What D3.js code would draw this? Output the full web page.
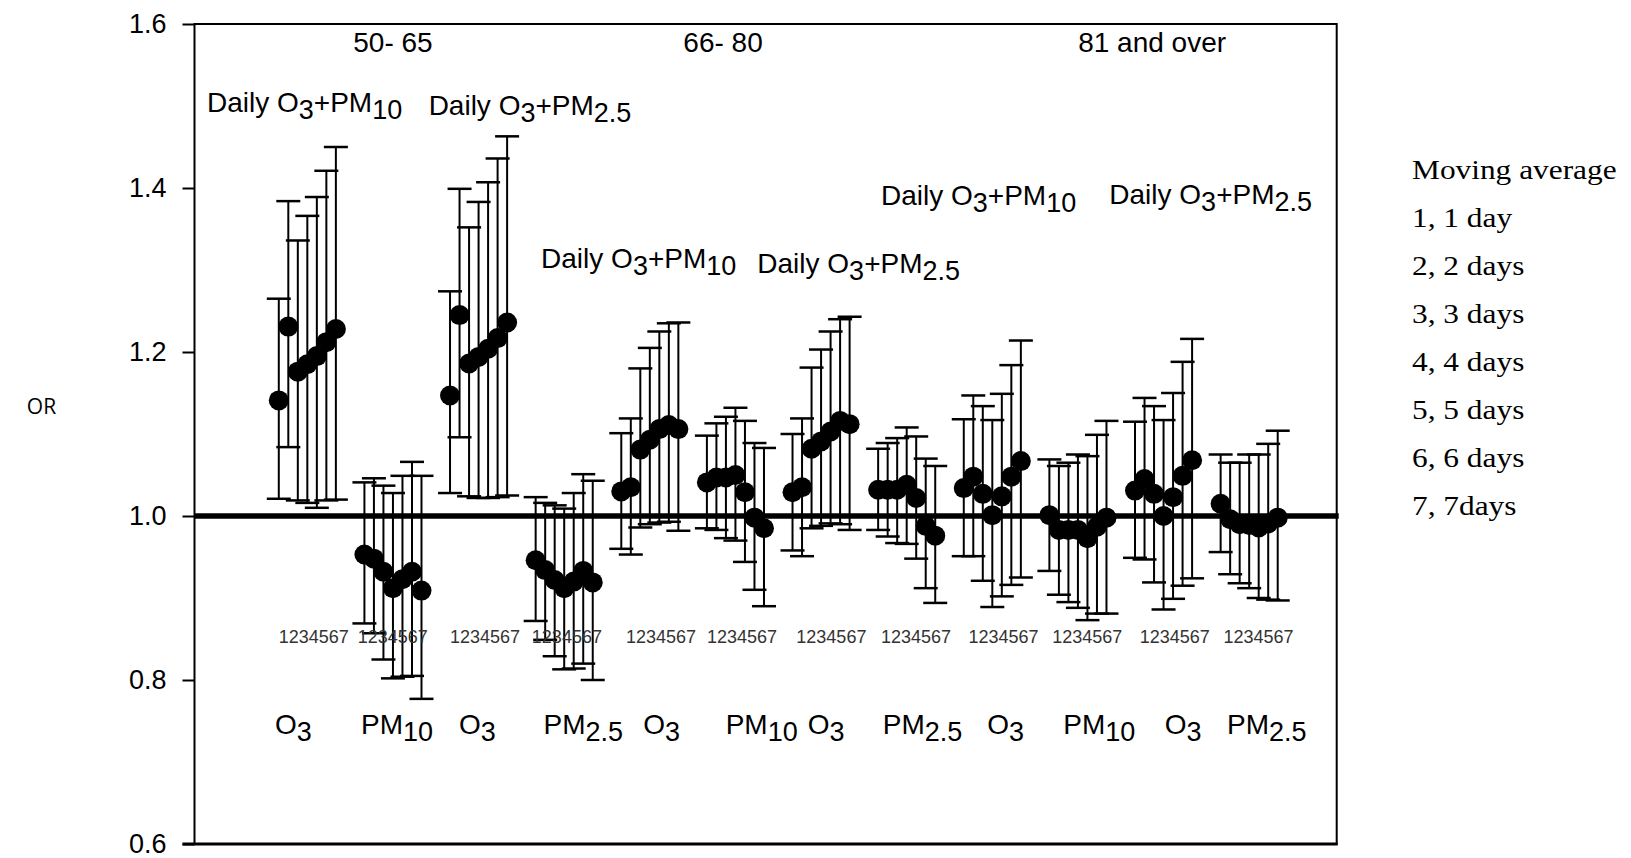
<!DOCTYPE html>
<html><head><meta charset="utf-8">
<script src="https://cdn.jsdelivr.net/npm/d3@7"></script>
<style>html,body{margin:0;padding:0;background:#fff;} svg{display:block;}</style>
</head><body>
<svg id="chart" width="1631" height="858"></svg>
<script>
// ---------------- data ----------------
const ageGroups = ["50- 65", "66- 80", "81 and over"];
const pollutantLabels = [["O","3"],["PM","10"],["O","3"],["PM","2.5"],
                         ["O","3"],["PM","10"],["O","3"],["PM","2.5"],
                         ["O","3"],["PM","10"],["O","3"],["PM","2.5"]];
const modelLabels = [["Daily O","3","+PM","10"],["Daily O","3","+PM","2.5"],
                     ["Daily O","3","+PM","10"],["Daily O","3","+PM","2.5"],
                     ["Daily O","3","+PM","10"],["Daily O","3","+PM","2.5"]];
const lagLabel = "1234567";
const yAxisTitle = "OR";
const legendTitle = "Moving average";
const legendItems = ["1, 1 day","2, 2 days","3, 3 days","4, 4 days","5, 5 days","6, 6 days","7, 7days"];
const yTickValues = [0.6, 0.8, 1.0, 1.2, 1.4, 1.6];

// odds ratios, one row per group (7 moving-average lags each)
const oddsRatio = [
  [1.141,1.231,1.176,1.185,1.195,1.212,1.228],
  [0.953,0.948,0.932,0.912,0.923,0.932,0.909],
  [1.147,1.245,1.186,1.194,1.204,1.217,1.236],
  [0.946,0.934,0.922,0.912,0.920,0.933,0.919],
  [1.030,1.035,1.081,1.093,1.106,1.111,1.106],
  [1.041,1.047,1.047,1.050,1.029,0.998,0.985],
  [1.029,1.035,1.082,1.091,1.103,1.116,1.112],
  [1.032,1.032,1.032,1.038,1.022,0.988,0.976],
  [1.034,1.048,1.027,1.001,1.024,1.048,1.067],
  [1.001,0.983,0.983,0.983,0.973,0.987,0.998],
  [1.031,1.045,1.027,1.000,1.023,1.049,1.068],
  [1.015,0.996,0.990,0.989,0.986,0.991,0.998]
];
const ciLower = [
  [1.021,1.084,1.019,1.016,1.010,1.019,1.020],
  [0.869,0.857,0.825,0.802,0.804,0.805,0.777],
  [1.028,1.096,1.024,1.022,1.022,1.023,1.025],
  [0.872,0.849,0.829,0.813,0.814,0.820,0.800],
  [0.960,0.953,0.986,0.990,0.992,0.993,0.982],
  [0.985,0.983,0.973,0.970,0.944,0.910,0.890],
  [0.958,0.951,0.985,0.988,0.991,0.990,0.983],
  [0.983,0.975,0.967,0.966,0.948,0.912,0.894],
  [0.951,0.951,0.921,0.889,0.902,0.916,0.925],
  [0.933,0.904,0.895,0.888,0.873,0.881,0.881],
  [0.949,0.947,0.919,0.886,0.899,0.915,0.924],
  [0.956,0.929,0.918,0.912,0.900,0.898,0.897]
];
const ciUpper = [
  [1.265,1.384,1.336,1.366,1.389,1.421,1.450],
  [1.041,1.046,1.037,1.028,1.049,1.066,1.049],
  [1.274,1.399,1.352,1.383,1.407,1.436,1.463],
  [1.023,1.016,1.013,1.009,1.028,1.051,1.043],
  [1.101,1.119,1.180,1.205,1.225,1.235,1.236],
  [1.098,1.113,1.121,1.132,1.116,1.089,1.083],
  [1.100,1.119,1.181,1.203,1.225,1.240,1.243],
  [1.082,1.089,1.095,1.108,1.097,1.070,1.061],
  [1.118,1.147,1.134,1.117,1.149,1.184,1.214],
  [1.069,1.061,1.065,1.075,1.073,1.099,1.116],
  [1.115,1.144,1.134,1.117,1.150,1.188,1.216],
  [1.075,1.065,1.065,1.075,1.075,1.088,1.104]
];

// ---------------- layout ----------------
const W = 1631, H = 858;
const plot = {left: 194.5, right: 1336.7, top: 24, bottom: 844};
const groupStride = 9;            // x-units between starts of consecutive groups
const xDomain = [-8.86, 111.2];   // x-units visible on the axis
// annotation anchors (in x-units)
const ageLabelX = [12.0, 46.7, 91.8];
const modelLabelX = [-7.55, 15.75, 27.57, 50.3, 63.3, 87.3];
const modelLabelY = [112, 115, 268, 273, 205, 204];
const lagLabelX = [0.0, 8.3, 18.0, 26.6, 36.5, 45.0, 54.4, 63.3, 72.5, 81.3, 90.5, 99.3];
const pollLabelX = [-0.4, 8.64, 18.95, 27.83, 38.3, 46.97, 55.6, 63.48, 74.47, 82.46, 93.13, 99.67];

const svg = d3.select("#chart");
svg.append("rect").attr("width", W).attr("height", H).attr("fill", "#fff");

const x = d3.scaleLinear().domain(xDomain).range([plot.left, plot.right]);
const y = d3.scaleLinear().domain([0.6, 1.6]).range([plot.bottom, plot.top]);

const sans = "'Liberation Sans', Arial, sans-serif";
const serif = "'Liberation Serif', 'Times New Roman', serif";

// frame
svg.append("rect")
  .attr("x", plot.left).attr("y", plot.top)
  .attr("width", plot.right - plot.left).attr("height", plot.bottom - plot.top)
  .attr("fill", "none").attr("stroke", "#000").attr("stroke-width", 2);
svg.append("line")
  .attr("x1", plot.left - 12).attr("x2", plot.right + 1)
  .attr("y1", y(0.6)).attr("y2", y(0.6))
  .attr("stroke", "#000").attr("stroke-width", 3);

// y axis
const yAxis = d3.axisLeft(y).tickValues(yTickValues)
  .tickFormat(d3.format(".1f")).tickSize(12).tickSizeOuter(0).tickPadding(16);
const gy = svg.append("g").attr("transform", `translate(${plot.left},0)`).call(yAxis);
gy.select(".domain").remove();
gy.selectAll(".tick line").attr("stroke", "#000").attr("stroke-width", 2);
gy.selectAll(".tick text").attr("font-family", sans).attr("font-size", 27).attr("fill", "#000");

// reference line at OR = 1
svg.append("line")
  .attr("x1", plot.left).attr("x2", plot.right + 2)
  .attr("y1", y(1)).attr("y2", y(1))
  .attr("stroke", "#000").attr("stroke-width", 5.5);

// flatten points
const pts = [];
oddsRatio.forEach((row, g) => row.forEach((v, i) => {
  pts.push({u: g * groupStride + i, or: v, lo: ciLower[g][i], hi: ciUpper[g][i]});
}));

const capW = 12;
const bars = svg.append("g").attr("stroke", "#000");
bars.selectAll("line.v").data(pts).join("line").attr("class", "v")
  .attr("x1", d => x(d.u)).attr("x2", d => x(d.u))
  .attr("y1", d => y(d.lo)).attr("y2", d => y(d.hi))
  .attr("stroke-width", 2);
bars.selectAll("line.ch").data(pts).join("line").attr("class", "ch")
  .attr("x1", d => x(d.u) - capW).attr("x2", d => x(d.u) + capW)
  .attr("y1", d => y(d.hi)).attr("y2", d => y(d.hi))
  .attr("stroke-width", 2.5);
bars.selectAll("line.cl").data(pts).join("line").attr("class", "cl")
  .attr("x1", d => x(d.u) - capW).attr("x2", d => x(d.u) + capW)
  .attr("y1", d => y(d.lo)).attr("y2", d => y(d.lo))
  .attr("stroke-width", 2.5);

svg.append("g").selectAll("circle").data(pts).join("circle")
  .attr("cx", d => x(d.u)).attr("cy", d => y(d.or)).attr("r", 10)
  .attr("fill", "#000");

// lag labels
svg.append("g").selectAll("text").data(lagLabelX).join("text")
  .attr("x", d => x(d)).attr("y", 643)
  .attr("font-family", sans).attr("font-size", 18).attr("fill", "#333")
  .text(lagLabel);

// helper for text with subscripts
function subText(sel, parts, size, subSize, shift) {
  parts.forEach((p, k) => {
    const isSub = k % 2 === 1;
    sel.append("tspan")
      .attr("font-size", isSub ? subSize : size)
      .attr("dy", k === 0 ? 0 : (isSub ? shift : -shift))
      .text(p);
  });
}

// pollutant labels
pollutantLabels.forEach((p, k) => {
  const t = svg.append("text").attr("x", x(pollLabelX[k])).attr("y", 734)
    .attr("font-family", sans).attr("fill", "#000");
  subText(t, p, 28, 27, 7);
});

// model labels
modelLabels.forEach((p, k) => {
  const t = svg.append("text").attr("x", x(modelLabelX[k])).attr("y", modelLabelY[k])
    .attr("font-family", sans).attr("fill", "#000");
  subText(t, p, 28, 27, 7);
});

// age group labels
svg.append("g").selectAll("text").data(ageGroups).join("text")
  .attr("x", (d, i) => x(ageLabelX[i])).attr("y", 52)
  .attr("text-anchor", "middle")
  .attr("font-family", sans).attr("font-size", 28).attr("fill", "#000")
  .text(d => d);

// y axis title
svg.append("text").attr("x", 41.5).attr("y", 407).attr("dy", "0.35em")
  .attr("text-anchor", "middle")
  .attr("font-family", "'Open Sans', sans-serif").attr("font-size", 21).attr("fill", "#000")
  .text(yAxisTitle);

// legend
const legLines = [legendTitle].concat(legendItems);
svg.append("g").selectAll("text").data(legLines).join("text")
  .attr("transform", (d, i) => `translate(1412,${179 + i * 48}) scale(1.12,1)`)
  .attr("font-family", serif).attr("font-size", 28).attr("fill", "#000")
  .text(d => d);
</script>
</body></html>
